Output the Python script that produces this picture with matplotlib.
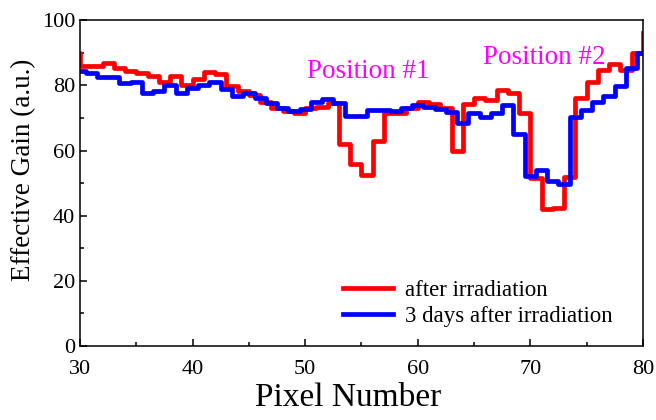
import matplotlib
matplotlib.use("Agg")
import matplotlib.pyplot as plt
import numpy as np

plt.rcParams['font.family'] = ['Liberation Serif', 'DejaVu Serif']

# pixel numbers
pix_red = np.arange(29, 81)
pix_blue = np.arange(30, 81)

# effective gain, after irradiation (value held from pixel n to n+1)
gain_red = [90, 85.8, 85.8, 86.9, 85.3, 84.5, 83.8, 83.0, 81.0, 83.0,
            80.0, 81.8, 84.0, 83.6, 79.7, 78.2, 77.0, 75.0, 73.0, 72.0,
            71.4, 73.0, 73.3, 74.5, 62.0, 56.0, 52.5, 63.0, 71.5, 71.5,
            73.2, 75.0, 74.3, 73.0, 60.0, 74.3, 76.0, 75.5, 78.6, 77.6,
            71.5, 51.5, 42.0, 42.3, 52.0, 76.0, 81.0, 84.6, 86.7, 84.6,
            90.0, 96.0]

# effective gain, 3 days after irradiation (steps centred on each pixel)
gain_blue = [84.5, 83.8, 82.5, 82.5, 80.7, 80.9, 77.8, 78.4, 80.2, 77.6,
             79.2, 80.2, 81.0, 79.0, 76.6, 77.6, 76.1, 74.5, 73.0, 72.0,
             72.8, 75.0, 75.8, 74.5, 70.7, 70.7, 72.4, 72.4, 72.0, 73.0,
             74.0, 73.3, 72.6, 71.9, 68.5, 71.4, 70.4, 71.4, 74.0, 65.2,
             52.3, 54.0, 50.8, 49.8, 70.4, 72.4, 75.0, 76.6, 79.7, 85.3,
             90.0]

fig = plt.figure(figsize=(6.56, 4.2), dpi=100)
ax = fig.add_axes([0.122, 0.176, 0.858, 0.776])

ax.step(pix_red, gain_red, where='post', color='#ff0000', lw=3.4,
        label='after irradiation')
ax.step(pix_blue, gain_blue, where='mid', color='#0000ff', lw=3.4,
        label='3 days after irradiation')

ax.set_xlim(30, 80)
ax.set_ylim(0, 100)
ax.set_xticks(np.arange(30, 81, 10))
ax.set_xticks(np.arange(35, 80, 10), minor=True)
ax.set_yticks(np.arange(0, 101, 20))
ax.set_yticks(np.arange(10, 100, 20), minor=True)
ax.tick_params(which='both', direction='in', labelsize=16, width=1.1)
ax.tick_params(which='major', length=5)
ax.tick_params(which='minor', length=3)
ax.tick_params(axis='x', pad=10)
for s in ax.spines.values():
    s.set_linewidth(1.1)

ax.set_xlabel('Pixel Number', fontsize=24)
ax.set_ylabel('Effective Gain (a.u.)', fontsize=19.5)
ax.xaxis.set_label_coords(0.476, -0.113)
ax.yaxis.set_label_coords(-0.078, 0.54)

ax.text(50.2, 82.3, 'Position #1', color='#ff00ff', fontsize=19.5)
ax.text(65.8, 86.5, 'Position #2', color='#ff00ff', fontsize=19.5)

ax.legend(loc='lower left', bbox_to_anchor=(0.467, 0.06), frameon=False,
          fontsize=16.5, borderpad=0, borderaxespad=0, handlelength=2.2,
          handletextpad=0.5, labelspacing=0.2)

fig.savefig('out.png', dpi=100)
